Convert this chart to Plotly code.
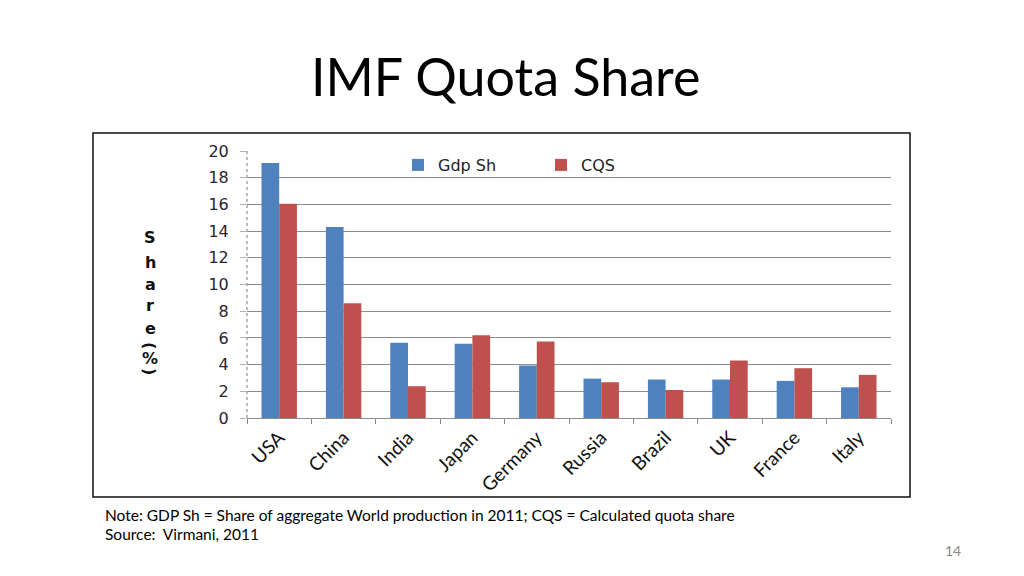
import plotly.graph_objects as go

countries = ['USA', 'China', 'India', 'Japan', 'Germany', 'Russia', 'Brazil', 'UK', 'France', 'Italy']
gdp_share = [19.1, 14.3, 5.63, 5.56, 3.93, 2.95, 2.88, 2.88, 2.78, 2.3]
cqs_share = [16.05, 8.6, 2.38, 6.2, 5.73, 2.68, 2.1, 4.3, 3.73, 3.23]
y_ticks = [0, 2, 4, 6, 8, 10, 12, 14, 16, 18, 20]

BLUE = '#4F81BD'
RED = '#C0504D'


def px_x(px):
    # page pixel -> paper x (plot area spans 247..891 on the page)
    return (px - 247) / 644


def px_y(py):
    # page pixel -> paper y (plot area spans 151..418 on the page)
    return (418 - py) / 267


fig = go.Figure()
fig.add_trace(go.Bar(x=countries, y=gdp_share, name='Gdp Sh', marker=dict(color=BLUE, line=dict(width=0))))
fig.add_trace(go.Bar(x=countries, y=cqs_share, name='CQS', marker=dict(color=RED, line=dict(width=0))))

# page body has an 8px margin, so margins are shifted to compensate
fig.update_layout(
    width=1024, height=576,
    margin=dict(l=239, r=141, t=143, b=166),
    paper_bgcolor='white', plot_bgcolor='white',
    barmode='group', bargap=0.45, bargroupgap=0,
    showlegend=True,
    legend=dict(orientation='h', x=px_x(398), y=px_y(165), xanchor='left', yanchor='middle',
                font=dict(family='DejaVu Sans', size=16, color='#222'),
                entrywidth=98, entrywidthmode='pixels', bgcolor='rgba(0,0,0,0)'),
    font=dict(family='DejaVu Sans', color='#222'),
)

fig.update_yaxes(range=[0, 20], tickvals=y_ticks, showgrid=True, gridcolor='#8c8c8c', gridwidth=1.3,
                 zeroline=False, showline=False, ticks='outside', ticklen=6, tickcolor='#b0b0b0',
                 ticklabelstandoff=8,
                 tickfont=dict(family='DejaVu Sans', size=16, color='#2b2233'))
fig.update_xaxes(showline=True, linecolor='#8c8c8c', linewidth=1.3, ticks='outside', ticklen=5,
                 tickcolor='#8c8c8c', tickson='boundaries', tickangle=-45,
                 tickfont=dict(family='Lato', size=19, color='#111'))

# dotted left axis line
fig.add_shape(type='line', xref='paper', yref='y', x0=0, x1=0, y0=0, y1=20,
              line=dict(color='#999999', width=1.3, dash='dot'))

# outer chart frame
fig.add_shape(type='rect', xref='paper', yref='paper', x0=px_x(93), x1=px_x(910), y0=px_y(497), y1=px_y(133),
              line=dict(color='#111', width=1.5))

# stacked y-axis label
label_parts = ['<b>S</b>', '<b>h</b>', '<b>a</b>', '<b>r</b>', '<b>e</b>', '<b>(</b>', '<b>%</b>', '<b>)</b>']
label_y = [237, 262, 284, 305, 328, 345, 358, 371]
label_angle = [0, 0, 0, 0, 0, 90, 0, 90]
for ch, py, ang in zip(label_parts, label_y, label_angle):
    fig.add_annotation(text=ch, textangle=ang, xref='paper', yref='paper', x=px_x(150), y=px_y(py),
                       xanchor='center', yanchor='middle', showarrow=False,
                       font=dict(family='DejaVu Sans', size=16, color='#111'))

# slide title
fig.add_annotation(text='IMF Quota Share', xref='paper', yref='paper', x=px_x(505), y=px_y(76),
                   xanchor='center', yanchor='middle', showarrow=False,
                   font=dict(family='Lato', size=52, color='#000'))

# notes
fig.add_annotation(text='Note: GDP Sh = Share of aggregate World production in 2011; CQS = Calculated quota share',
                   xref='paper', yref='paper', x=px_x(103), y=px_y(515), xanchor='left', yanchor='middle',
                   showarrow=False, font=dict(family='Lato', size=15.5, color='#000'))
fig.add_annotation(text='Source:  Virmani, 2011', xref='paper', yref='paper', x=px_x(103), y=px_y(534),
                   xanchor='left', yanchor='middle', showarrow=False,
                   font=dict(family='Lato', size=15.5, color='#000'))
fig.add_annotation(text='14', xref='paper', yref='paper', x=px_x(953), y=px_y(550),
                   xanchor='center', yanchor='middle', showarrow=False,
                   font=dict(family='Lato', size=14, color='#8a8a8a'))

fig.write_html("out.html")
